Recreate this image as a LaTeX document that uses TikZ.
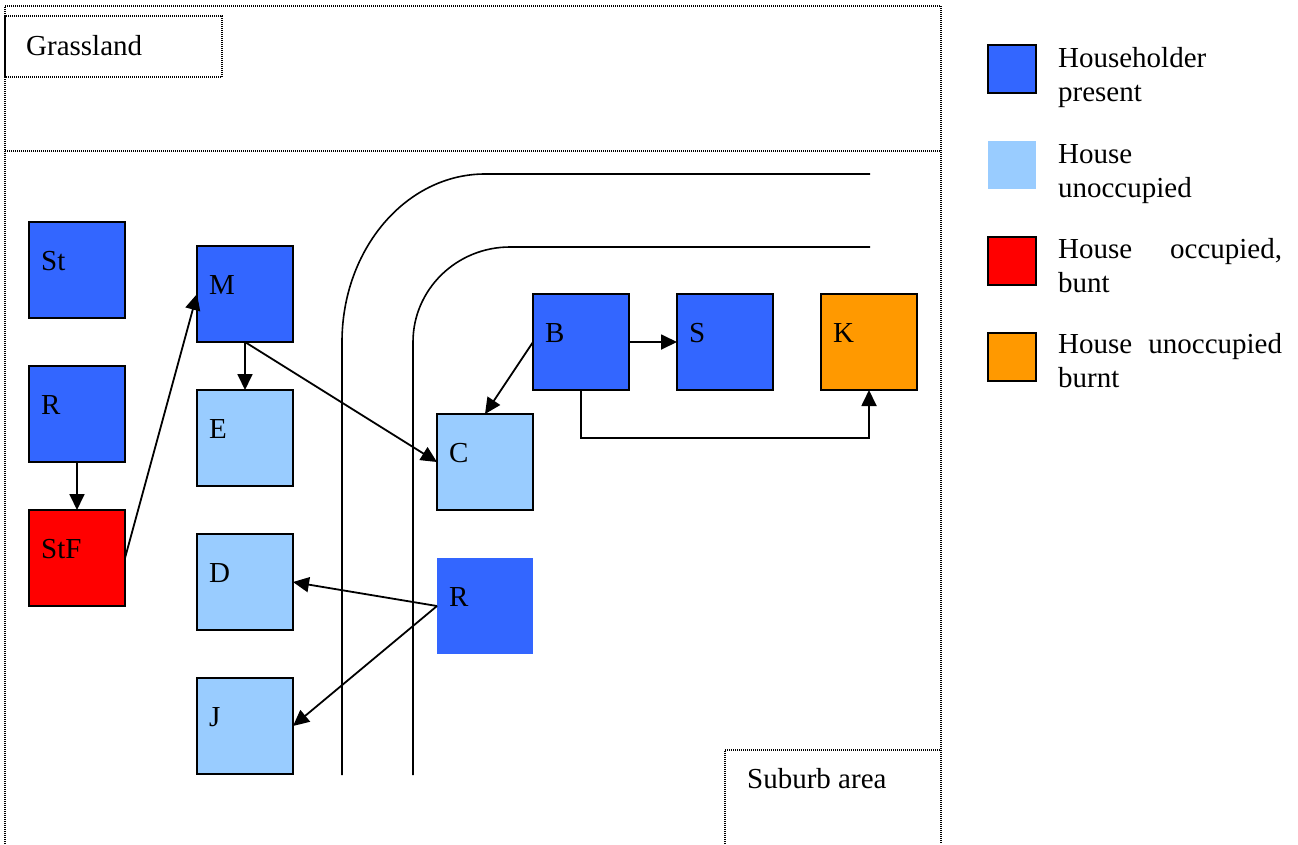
\documentclass[tikz,border=0pt]{standalone}
\usepackage{fontspec}
\setmainfont{Liberation Serif}
\usepackage{tikz}
\usetikzlibrary{arrows.meta}
\definecolor{hpresent}{RGB}{51,102,255}
\definecolor{hempty}{RGB}{153,204,255}
\definecolor{hburnt}{RGB}{255,0,0}
\definecolor{hlost}{RGB}{255,153,0}
\tikzset{
  bigfont/.style = {font=\fontsize{29}{34.5}\selectfont},
  house/.style={
    draw=black, line width=1.8pt,
    minimum size=96pt,
    inner sep=0pt, outer sep=0pt,
    label={[anchor=base west, xshift=12pt, inner sep=0pt, bigfont]west:#1}},
  keybox/.style={draw=black, line width=1.8pt, minimum size=48pt, inner sep=0pt},
  keytext/.style={bigfont, inner sep=0pt, align=left, anchor=base west},
  zone/.style={dash pattern=on 1pt off 1pt, line width=1.2pt},
  road/.style={line width=1.6pt},
  link/.style={line width=1.8pt, -{Triangle[length=16pt, width=15pt]}},
}

\begin{document}
\begin{tikzpicture}[x=1pt, y=-1pt]
  \useasboundingbox (0,0) rectangle (1298,844);

  %% Areas
  \draw[zone] (5,844) -- (5,6) -- (941,6) -- (941,844);
  \draw[zone] (5,151) -- (941,151);
  \draw[zone] (5,16) rectangle (222,77);
  \node[bigfont, inner sep=0pt, anchor=base west] (grass) at (26,55) {Grassland};
  \draw[zone] (725,844) -- (725,750) -- (941,750);
  \node[bigfont, inner sep=0pt, anchor=base west] (suburb) at (747,788) {Suburb area};

  %% Roads
  \draw[road] (342,775) -- (342,342) arc[start angle=180, end angle=270, x radius=143, y radius=168] -- (870,174);
  \draw[road] (413,775) -- (413,342) arc[start angle=180, end angle=270, x radius=97, y radius=95] -- (870,247);

  %% Houses
  \node[house=St, fill=hpresent] (St) at (77,270) {};
  \node[house=R, fill=hpresent] (Rw) at (77,414) {};
  \node[house=StF, fill=hburnt] (StF) at (77,558) {};
  \node[house=M, fill=hpresent] (M) at (245,294) {};
  \node[house=E, fill=hempty] (E) at (245,438) {};
  \node[house=D, fill=hempty] (D) at (245,582) {};
  \node[house=J, fill=hempty] (J) at (245,726) {};
  \node[house=C, fill=hempty] (C) at (485,462) {};
  \node[house=R, fill=hpresent, draw=none] (Re) at (485,606) {};
  \node[house=B, fill=hpresent] (B) at (581,342) {};
  \node[house=S, fill=hpresent] (S) at (725,342) {};
  \node[house=K, fill=hlost] (K) at (869,342) {};

  %% Spread of the fire
  \draw[link] (Rw.south) -- (StF.north);
  \draw[link] (StF.east) -- (M.west);
  \draw[link] (M.south) -- (E.north);
  \draw[link] (M.south) -- (C.west);
  \draw[link] (B.west) -- (C.north);
  \draw[link] (B.east) -- (S.west);
  \draw[link] (B.south) -- ++(0,48) -| (K.south);
  \draw[link] (Re.west) -- (D.east);
  \draw[link] (Re.west) -- (J.east);

  %% Legend
  \node[keybox, fill=hpresent] (keyA) at (1012,69) {};
  \node[keybox, fill=hempty, draw=none] (keyB) at (1012,165) {};
  \node[keybox, fill=hburnt] (keyC) at (1012,261) {};
  \node[keybox, fill=hlost] (keyD) at (1012,357) {};
  \node[keytext] (txtA) at ([xshift=21pt, yshift=-32.5pt]keyA.east) {Householder\\present};
  \node[keytext] (txtB) at ([xshift=21pt, yshift=-32.5pt]keyB.east) {House\\unoccupied};
  \node[keytext] (txtC) at ([xshift=21pt, yshift=-31.5pt]keyC.east) {\makebox[224pt][s]{House occupied,}\\bunt};
  \node[keytext] (txtD) at ([xshift=21pt, yshift=-30.5pt]keyD.east) {\makebox[224pt][s]{House unoccupied}\\burnt};
\end{tikzpicture}
\end{document}
